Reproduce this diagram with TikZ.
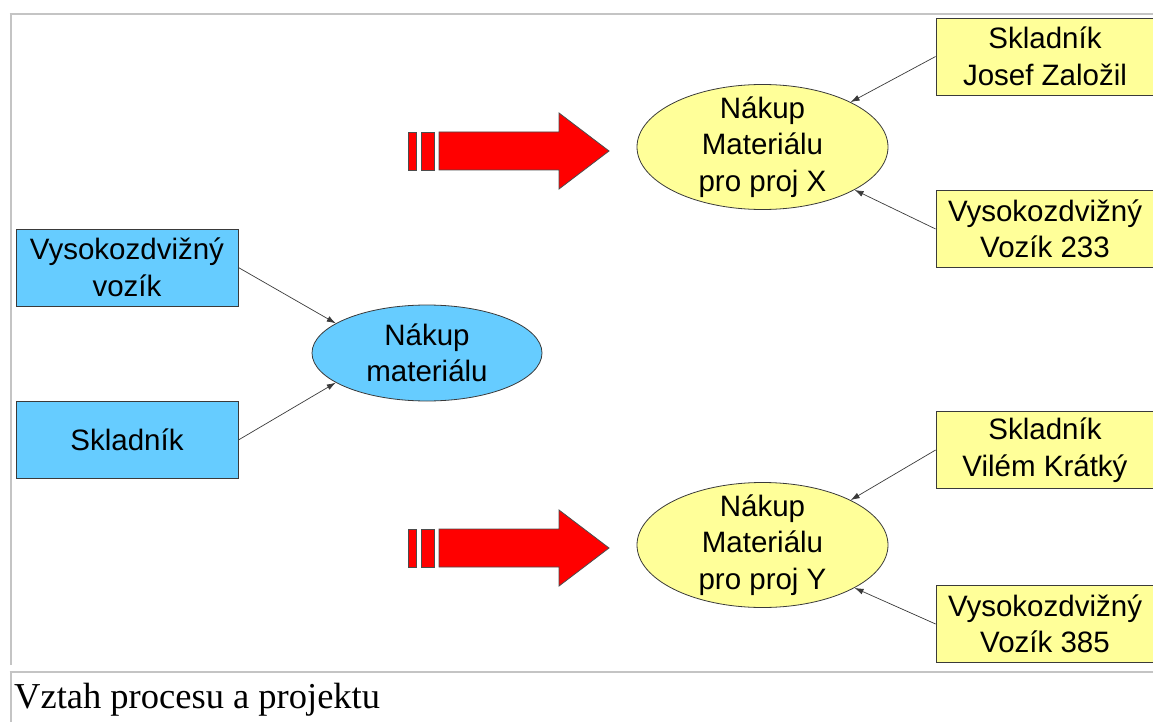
\documentclass[tikz,border=0pt]{standalone}
\usepackage{fontspec}
\setmainfont{Liberation Serif}
\newfontfamily\arialfont{Liberation Sans}
\usetikzlibrary{arrows.meta,shapes.geometric}

\definecolor{procblue}{HTML}{66CCFF}
\definecolor{projyellow}{HTML}{FFFF99}
\definecolor{framegray}{HTML}{C4C4C4}
\definecolor{edgegray}{HTML}{3A3A3A}

\begin{document}
\begin{tikzpicture}[x=1pt,y=-1pt,
  lbl/.style={font=\arialfont\fontsize{29.5}{36.5}\selectfont, align=center, text=black},
  res/.style={rectangle, draw=edgegray, line width=0.8pt, inner sep=0pt,
              minimum width=222pt, minimum height=77pt, lbl},
  proc/.style={ellipse, draw=edgegray, line width=0.8pt, inner sep=0pt},
  link/.style={draw=edgegray, line width=0.7pt, -{Latex[length=9pt,width=6pt]}},
  bigarrow/.style={fill=red, draw=black!70, line width=0.8pt, line join=miter},
  framerule/.style={draw=framegray, line width=2.6pt}]
\useasboundingbox (0,0) rectangle (1153,722);

% frame of the figure and of the caption row
\draw[framerule] (9.7,14) -- (1153,14);
\draw[framerule] (11,14) -- (11,665);
\draw[framerule] (9.7,672) -- (1153,672);
\draw[framerule] (11,672) -- (11,722);

% process with its generic resources
\node[res, fill=procblue] (r1) at (127,267.5) {Vysokozdvižný\\vozík};
\node[res, fill=procblue] (r2) at (127,440) {Skladník};
\node[proc, fill=procblue, minimum width=230pt, minimum height=96pt,
      label={[lbl]center:Nákup\\materiálu}] (pm) at (427,353) {};
\draw[link] (r1.east) -- (pm.162);
\draw[link] (r2.east) -- (pm.198);

% project X
\node[proc, fill=projyellow, minimum width=251pt, minimum height=125pt,
      label={[lbl]center:Nákup\\Materiálu\\pro proj X}] (px) at (762.5,147) {};
\node[res, fill=projyellow, minimum width=218pt] (xs) at (1045,56.5) {Skladník\\Josef Založil};
\node[res, fill=projyellow, minimum width=218pt] (xv) at (1045,229) {Vysokozdvižný\\Vozík 233};
\draw[link] (xs.west) -- (px.27);
\draw[link] (xv.west) -- (px.-25);

% project Y
\node[proc, fill=projyellow, minimum width=251pt, minimum height=125pt,
      label={[lbl]center:Nákup\\Materiálu\\pro proj Y}] (py) at (762.5,545) {};
\node[res, fill=projyellow, minimum width=218pt] (ys) at (1045,450) {Skladník\\Vilém Krátký};
\node[res, fill=projyellow, minimum width=218pt] (yv) at (1045,624) {Vysokozdvižný\\Vozík 385};
\draw[link] (ys.west) -- (py.27);
\draw[link] (yv.west) -- (py.-25);

% striped block arrows pointing at the projects
\foreach \dy in {0,397} {
  \begin{scope}[yshift=-\dy pt]
    \draw[bigarrow] (408,132) rectangle (416,170);
    \draw[bigarrow] (421,132) rectangle (434,170);
    \draw[bigarrow] (439,132) -- (559,132) -- (559,113) -- (609,151)
                    -- (559,189) -- (559,170) -- (439,170) -- cycle;
  \end{scope}
}

% caption
\node[anchor=base west, inner sep=0pt, font=\fontsize{36.5}{40}\selectfont] (cap) at (14,708)
  {Vztah procesu a projektu};
\end{tikzpicture}
\end{document}
